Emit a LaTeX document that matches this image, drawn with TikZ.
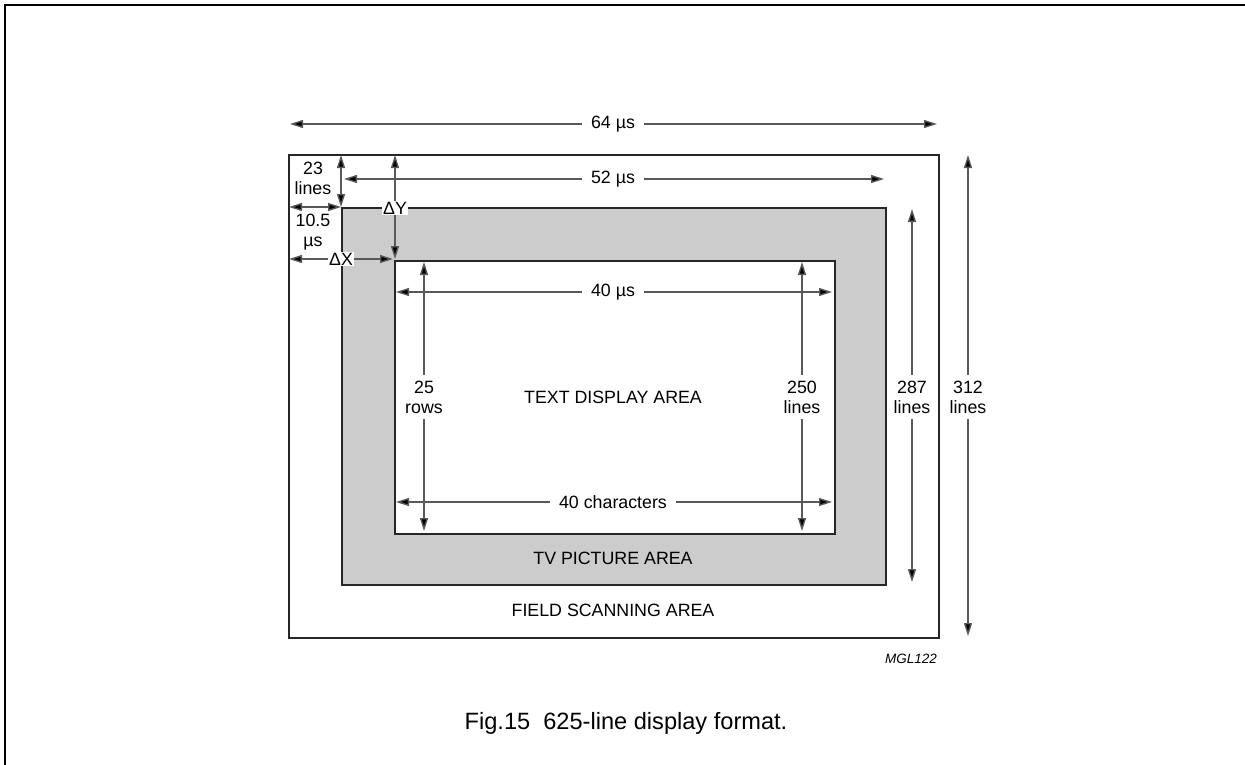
\documentclass[tikz,border=0pt]{standalone}
\usepackage{fontspec}
\setmainfont{Liberation Sans}
\usetikzlibrary{arrows.meta}
\begin{document}
\begin{tikzpicture}[x=1pt,y=-1pt,
  box/.style={draw=black!85,line width=1.8pt},
  dim/.style={draw=black!65,line width=1.4pt,{Triangle[length=13pt,width=8pt,fill=black]}-{Triangle[length=13pt,width=8pt,fill=black]},shorten >=0pt,shorten <=0pt},
  lbl/.style={fill=white,inner xsep=7pt,inner ysep=2pt,font=\fontsize{17.8}{20}\selectfont,align=center,text=black},
  area/.style={font=\fontsize{17.8}{20}\selectfont,text=black},
  dl/.style={fill=white,inner sep=1pt,font=\fontsize{17.8}{20}\selectfont,text=black}]
\useasboundingbox (0,0) rectangle (1245,764);
\fill[white] (0,0) rectangle (1245,764);
% page frame
\draw[line width=2pt,black] (5,770) -- (5,5) -- (1250,5);
% rectangles
\node[box,minimum width=650pt,minimum height=483pt,inner sep=0pt,anchor=north west] (field) at (288,154) {};
\node[box,fill=black!20,minimum width=544pt,minimum height=377pt,inner sep=0pt,anchor=north west] (tv) at (341,207) {};
\node[box,fill=white,minimum width=440pt,minimum height=273pt,inner sep=0pt,anchor=north west] (text) at (394,260) {};
% area labels
\node[area] (ta) at (613,397) {TEXT DISPLAY AREA};
\node[area] (tva) at (613,558) {TV PICTURE AREA};
\node[area] (fsa) at (613,610) {FIELD SCANNING AREA};
% coordinates
\coordinate (a64l) at (290,124); \coordinate (a64r) at (937,124);
\coordinate (a52l) at (344,179); \coordinate (a52r) at (884,179);
\coordinate (a23t) at (341,155); \coordinate (a23b) at (341,207);
\coordinate (a105l) at (289,207); \coordinate (a105r) at (341,207);
\coordinate (dyt) at (395,155); \coordinate (dyb) at (395,259);
\coordinate (dxl) at (289,259); \coordinate (dxr) at (393,259);
\coordinate (a40l) at (396,292); \coordinate (a40r) at (832,292);
\coordinate (a40cl) at (396,502); \coordinate (a40cr) at (832,502);
\coordinate (a25t) at (424,262); \coordinate (a25b) at (424,531);
\coordinate (a250t) at (802,262); \coordinate (a250b) at (802,531);
\coordinate (a287t) at (912,209); \coordinate (a287b) at (912,582);
\coordinate (a312t) at (968,155); \coordinate (a312b) at (968,636);
% dimension arrows
\draw[dim] (a64l) -- (a64r);
\node[lbl,inner xsep=9pt] (l64) at (613,124) {64 µs};
\draw[dim] (a52l) -- (a52r);
\node[lbl,inner xsep=9pt] (l52) at (613,179) {52 µs};
\draw[dim] (a23t) -- (a23b);
\node[area,align=center] (l23) at (313,178) {23\\lines};
\draw[dim] (a105l) -- (a105r);
\node[area,align=center] (l105) at (313,232) {10.5\\µs};
\draw[dim] (dyt) -- (dyb);
\node[dl] (ldy) at (395,208) {ΔY};
\draw[dim] (dxl) -- (dxr);
\node[dl] (ldx) at (341,259) {ΔX};
\draw[dim] (a40l) -- (a40r);
\node[lbl,inner xsep=9pt] (l40) at (613,292) {40 µs};
\draw[dim] (a40cl) -- (a40cr);
\node[lbl,inner xsep=9pt] (l40c) at (613,502) {40 characters};
\draw[dim] (a25t) -- (a25b);
\node[lbl,inner xsep=2pt,inner ysep=6pt] (l25) at (424,397) {25\\rows};
\draw[dim] (a250t) -- (a250b);
\node[lbl,inner xsep=2pt,inner ysep=6pt] (l250) at (802,397) {250\\lines};
\draw[dim] (a287t) -- (a287b);
\node[lbl,inner xsep=2pt,inner ysep=6pt] (l287) at (912,397) {287\\lines};
\draw[dim] (a312t) -- (a312b);
\node[lbl,inner xsep=2pt,inner ysep=6pt] (l312) at (968,397) {312\\lines};
% code and caption
\node[font=\fontsize{13.5}{15}\selectfont\itshape] (code) at (911,659) {MGL122};
\node[font=\fontsize{23.6}{27}\selectfont] (cap) at (626,723) {Fig.15\ \ 625-line display format.};
\end{tikzpicture}
\end{document}
